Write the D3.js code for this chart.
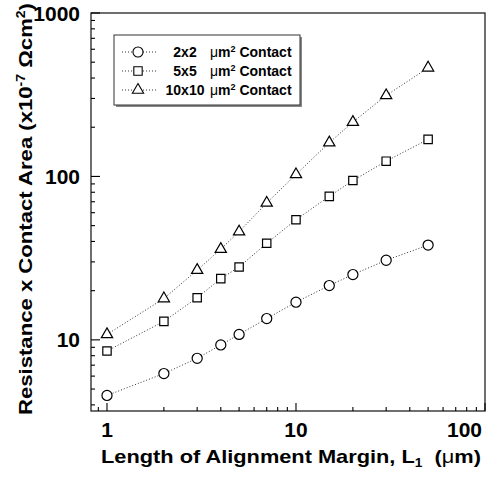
<!DOCTYPE html>
<html>
<head>
<meta charset="utf-8">
<script src="https://cdn.jsdelivr.net/npm/d3@7"></script>
<style>
  html, body { margin: 0; padding: 0; background: #fff; }
  svg { display: block; }
  text { font-family: "Liberation Sans", Arial, Helvetica, sans-serif; font-weight: bold; fill: #000; }
</style>
</head>
<body>
<svg id="chart" width="504" height="480"></svg>
<script>
// Alignment margin lengths (µm)
const marginLengths = [1, 2, 3, 4, 5, 7, 10, 15, 20, 30, 50];
// Specific contact resistivity (x10^-7 Ωcm²) per contact size
const contact2x2   = [4.57, 6.22, 7.71, 9.31, 10.8, 13.5, 17.0, 21.5, 25.1, 30.7, 38.0];
const contact5x5   = [8.55, 12.97, 18.1, 23.7, 27.9, 39.0, 54.3, 75.5, 94.4, 124, 168.6];
const contact10x10 = [10.8, 17.9, 26.7, 35.9, 45.9, 68.8, 102.8, 161, 215, 313, 462];
const sizeLabels = ["2x2", "5x5", "10x10"];
const xTickValues = [1, 10, 100];
const yTickValues = [10, 100, 1000];

const series = [
  { size: sizeLabels[0], values: contact2x2, symbol: "circle" },
  { size: sizeLabels[1], values: contact5x5, symbol: "square" },
  { size: sizeLabels[2], values: contact10x10, symbol: "triangle" }
];

const svg = d3.select("#chart");
const plot = { left: 91, right: 485, top: 13, bottom: 411 };

const x = d3.scaleLog().domain([0.823, 100]).range([plot.left, plot.right]);
const y = d3.scaleLog().domain([3.67, 1000]).range([plot.bottom, plot.top]);

// Minor and major tick positions across the visible decades
function logTicks(scale) {
  const [a, b] = scale.domain();
  const out = [];
  for (let e = Math.floor(Math.log10(a)); e <= Math.ceil(Math.log10(b)); e++) {
    for (let m = 1; m <= 9; m++) {
      const v = m * Math.pow(10, e);
      if (v >= a * 0.999 && v <= b * 1.001) out.push({ v, major: m === 1 });
    }
  }
  return out;
}

// Frame
svg.append("rect")
  .attr("x", plot.left).attr("y", plot.top)
  .attr("width", plot.right - plot.left).attr("height", plot.bottom - plot.top)
  .attr("fill", "none").attr("stroke", "#222").attr("stroke-width", 1.3);

// Inward ticks on bottom and left axes
svg.append("g").selectAll("line").data(logTicks(x)).join("line")
  .attr("x1", d => x(d.v)).attr("x2", d => x(d.v))
  .attr("y1", plot.bottom).attr("y2", d => plot.bottom - (d.major ? 8 : 4))
  .attr("stroke", "#000").attr("stroke-width", 1.1);

svg.append("g").selectAll("line").data(logTicks(y)).join("line")
  .attr("y1", d => y(d.v)).attr("y2", d => y(d.v))
  .attr("x1", plot.left).attr("x2", d => plot.left + (d.major ? 9 : 4))
  .attr("stroke", "#000").attr("stroke-width", 1.1);

// Tick labels
svg.append("g").selectAll("text").data(xTickValues).join("text")
  .attr("x", (d, i) => i === xTickValues.length - 1 ? x(d) - 3 : x(d))
  .attr("y", 437)
  .attr("text-anchor", (d, i) => i === xTickValues.length - 1 ? "end" : "middle")
  .attr("font-size", 21)
  .text(d => d);

svg.append("g").selectAll("text").data(yTickValues).join("text")
  .attr("x", 80)
  .attr("y", d => y(d))
  .attr("dy", "0.36em")
  .attr("text-anchor", "end")
  .attr("font-size", 21)
  .text(d => d);

// Axis titles
const xt = svg.append("text").attr("x", 101).attr("y", 463).attr("font-size", 19)
  .attr("textLength", 380).attr("lengthAdjust", "spacingAndGlyphs");
xt.append("tspan").text("Length of Alignment Margin, L");
xt.append("tspan").attr("font-size", 12).attr("dy", 4).text("1");
xt.append("tspan").attr("dy", -4).text("\u00a0\u00a0(");
xt.append("tspan").attr("font-weight", "normal").text("\u03bc");
xt.append("tspan").text("m)");

const yt = svg.append("text")
  .attr("transform", "translate(32,415) rotate(-90)")
  .attr("font-size", 19)
  .attr("textLength", 412).attr("lengthAdjust", "spacingAndGlyphs");
yt.append("tspan").text("Resistance x Contact Area (x10");
yt.append("tspan").attr("font-size", 12).attr("dy", -7).text("-7");
yt.append("tspan").attr("dy", 7).text(" \u03a9cm");
yt.append("tspan").attr("font-size", 12).attr("dy", -7).text("2");
yt.append("tspan").attr("dy", 7).text(")");

// Marker shapes
const symbolType = { circle: d3.symbolCircle, square: d3.symbolSquare, triangle: d3.symbolTriangle };
const symbolSize = { circle: 80, square: 70, triangle: 55 };
function symbolPath(kind) {
  return d3.symbol().type(symbolType[kind]).size(symbolSize[kind])();
}

const line = d3.line().x(d => x(d[0])).y(d => y(d[1]));

series.forEach(s => {
  const pts = marginLengths.map((m, i) => [m, s.values[i]]);
  svg.append("path")
    .attr("d", line(pts))
    .attr("fill", "none")
    .attr("stroke", "#333")
    .attr("stroke-width", 1)
    .attr("stroke-dasharray", "1,2");
  svg.append("g").selectAll("path").data(pts).join("path")
    .attr("transform", d => `translate(${x(d[0])},${y(d[1])})`)
    .attr("d", symbolPath(s.symbol))
    .attr("fill", "#fff")
    .attr("stroke", "#000")
    .attr("stroke-width", 1.2);
});

// Legend
const lg = svg.append("g");
lg.append("rect").attr("x", 116).attr("y", 37).attr("width", 186).attr("height", 70).attr("fill", "#888");
lg.append("rect").attr("x", 114).attr("y", 35).attr("width", 186).attr("height", 70)
  .attr("fill", "#fff").attr("stroke", "#333").attr("stroke-width", 1);

series.forEach((s, i) => {
  const ly = 52 + i * 19;
  lg.append("line").attr("x1", 122).attr("x2", 156).attr("y1", ly).attr("y2", ly)
    .attr("stroke", "#333").attr("stroke-width", 1).attr("stroke-dasharray", "1,2");
  lg.append("path").attr("transform", `translate(138,${ly})`).attr("d", symbolPath(s.symbol))
    .attr("fill", "#fff").attr("stroke", "#000").attr("stroke-width", 1.1);
  lg.append("text").attr("x", 185).attr("y", ly).attr("dy", "0.36em")
    .attr("text-anchor", "middle").attr("font-size", 14).text(s.size);
  const t = lg.append("text").attr("x", 210).attr("y", ly).attr("dy", "0.36em").attr("font-size", 14);
  t.append("tspan").attr("font-weight", "normal").text("\u03bc");
  t.append("tspan").text("m");
  t.append("tspan").attr("font-size", 9).attr("dy", -5).text("2");
  t.append("tspan").attr("dy", 5).text(" Contact");
});
</script>
</body>
</html>
